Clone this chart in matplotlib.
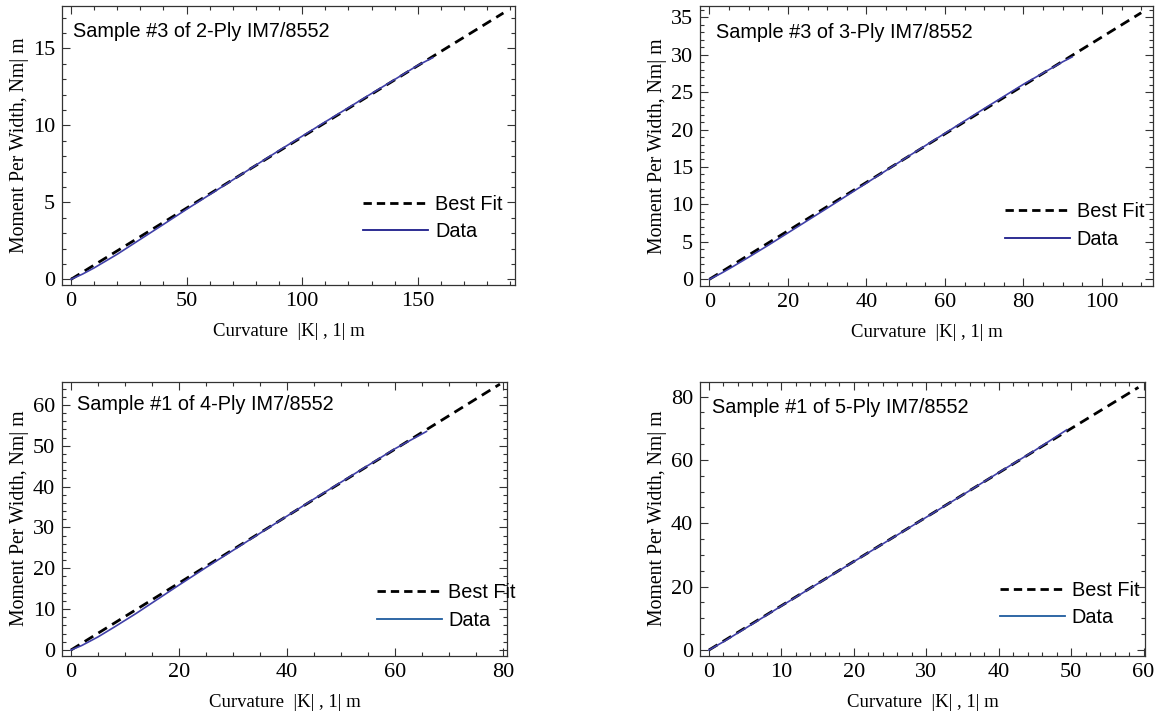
import matplotlib
matplotlib.use('Agg')
import matplotlib.pyplot as plt
from matplotlib.lines import Line2D
from matplotlib.ticker import MultipleLocator

# ---- data ----
titles = ['Sample #3 of 2-Ply IM7/8552', 'Sample #3 of 3-Ply IM7/8552',
          'Sample #1 of 4-Ply IM7/8552', 'Sample #1 of 5-Ply IM7/8552']

# best fit lines (end points)
fit1_x = [0, 187]
fit1_y = [0, 17.3]
fit2_x = [0, 110]
fit2_y = [0, 35.6]
fit3_x = [0, 79.4]
fit3_y = [0, 65.1]
fit4_x = [0, 59.3]
fit4_y = [0, 82.9]

# measured curves
data1_x = [0, 5, 10, 20, 30, 40, 50, 60, 70, 80, 90, 100, 110, 120, 130, 140, 150, 156.5]
data1_y = [0, 0.34, 0.74, 1.63, 2.6, 3.57, 4.55, 5.5, 6.46, 7.42, 8.37, 9.3, 10.23, 11.15, 12.07, 12.98, 13.9, 14.4]
data2_x = [0, 3, 6, 10, 15, 20, 30, 40, 50, 60, 70, 80, 90, 92.4]
data2_y = [0, 0.8, 1.7, 2.95, 4.55, 6.2, 9.5, 12.85, 16.2, 19.5, 22.8, 26.05, 29.05, 29.7]
data3_x = [0, 2, 5, 8, 12, 16, 20, 25, 30, 35, 40, 45, 50, 55, 60, 65.8]
data3_y = [0, 1.1, 3.2, 5.6, 8.9, 12.4, 15.9, 20.2, 24.4, 28.6, 32.8, 37.0, 41.1, 45.2, 49.3, 53.5]
data4_x = [0, 2, 5, 10, 15, 20, 25, 30, 35, 40, 45, 49.4]
data4_y = [0, 2.6, 6.8, 13.9, 20.9, 27.9, 34.9, 41.9, 48.9, 56.0, 63.0, 69.5]

fits = [(fit1_x, fit1_y), (fit2_x, fit2_y), (fit3_x, fit3_y), (fit4_x, fit4_y)]
datas = [(data1_x, data1_y), (data2_x, data2_y), (data3_x, data3_y), (data4_x, data4_y)]

# ---- layout ----
positions = [[0.0533, 0.6025, 0.3895, 0.3891],
             [0.6019, 0.6011, 0.3895, 0.3905],
             [0.0533, 0.0855, 0.3826, 0.3822],
             [0.6019, 0.0855, 0.3826, 0.3822]]
xlims = [(-3.9, 192), (-2.4, 113), (-1.67, 80.7), (-1.24, 60.2)]
ylims = [(-0.37, 17.75), (-0.9, 36.5), (-1.4, 65.7), (-1.8, 84.7)]
xmajor = [50, 20, 20, 10]
xminor = [10, 5, 5, 2]
ymajor = [5, 5, 10, 20]
yminor = [1, 1, 2, 5]
title_pos = [(0.024, 0.91), (0.035, 0.904), (0.034, 0.917), (0.026, 0.907)]
legend_pos = [(0.665, 0.323), (0.673, 0.30), (0.707, 0.265), (0.674, 0.274)]
legend_data_color = ['#1c1c8a', '#1c1c8a', '#1f5c9e', '#1f5c9e']

serif = ['Liberation Serif', 'DejaVu Serif']
sans = ['Liberation Sans', 'DejaVu Sans']

fig = plt.figure(figsize=(11.63, 7.17), dpi=100)

for i in range(4):
    ax = fig.add_axes(positions[i])
    fx, fy = fits[i]
    dx, dy = datas[i]
    ax.plot(fx, fy, color='black', lw=2.0, dashes=(3.6, 2.2), zorder=2)
    ax.plot(dx, dy, color='#4040a8', lw=1.2, zorder=3)

    ax.set_xlim(*xlims[i])
    ax.set_ylim(*ylims[i])
    ax.xaxis.set_major_locator(MultipleLocator(xmajor[i]))
    ax.xaxis.set_minor_locator(MultipleLocator(xminor[i]))
    ax.yaxis.set_major_locator(MultipleLocator(ymajor[i]))
    ax.yaxis.set_minor_locator(MultipleLocator(yminor[i]))
    ax.tick_params(which='both', direction='in', top=True, right=True,
                   color='#333333', width=0.8)
    ax.tick_params(which='major', length=5.5, pad=5, labelsize=16)
    ax.tick_params(which='minor', length=3)
    for lab in ax.get_xticklabels() + ax.get_yticklabels():
        lab.set_family(serif)
    for sp in ax.spines.values():
        sp.set_color('#333333')
        sp.set_linewidth(0.9)

    ax.set_xlabel('Curvature  |K| , 1| m', family=serif, fontsize=13.5, labelpad=9)
    ax.set_ylabel('Moment Per Width, Nm| m', family=serif, fontsize=14.2, labelpad=2.5)

    ax.text(title_pos[i][0], title_pos[i][1], titles[i], transform=ax.transAxes,
            family=sans, fontsize=14.3, va='center', ha='left')

    handles = [Line2D([], [], color='black', lw=2.0, dashes=(3.0, 1.8)),
               Line2D([], [], color=legend_data_color[i], lw=1.3)]
    ax.legend(handles, ['Best Fit', 'Data'], loc='upper left',
              bbox_to_anchor=legend_pos[i], frameon=False, borderpad=0,
              borderaxespad=0, handlelength=3.27, handletextpad=0.35,
              labelspacing=0.43, prop={'family': sans, 'size': 14.3})

fig.savefig('out.png', dpi=100)
